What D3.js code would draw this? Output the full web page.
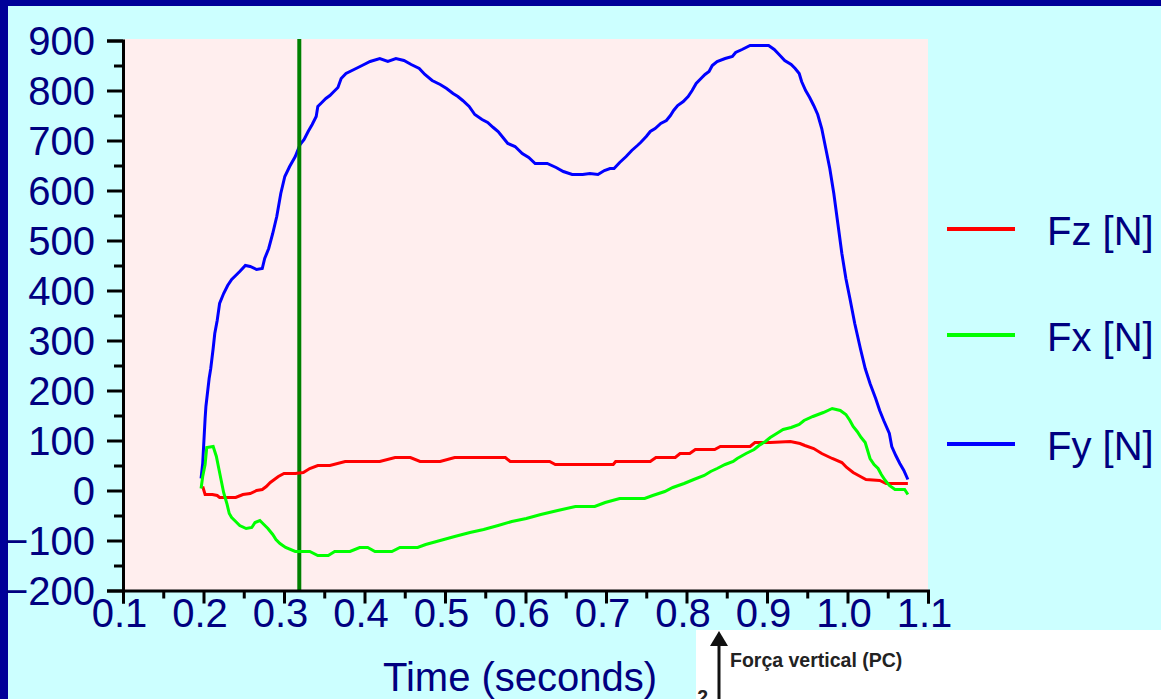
<!DOCTYPE html>
<html>
<head>
<meta charset="utf-8">
<script src="https://cdn.jsdelivr.net/npm/d3@7/dist/d3.min.js"></script>
<style>
body{margin:0;background:#ccffff;overflow:hidden;}
text{font-family:"Liberation Sans",Arial,sans-serif;}
</style>
</head>
<body>
<svg id="chart" width="1161" height="699"></svg>
<script>
// data (seconds, newtons)
var xTicks = [0.1,0.2,0.3,0.4,0.5,0.6,0.7,0.8,0.9,1.0,1.1];
var xMinor = [0.15,0.25,0.35,0.45,0.55,0.65,0.75,0.85,0.95,1.05];
var yTicks = [-200,-100,0,100,200,300,400,500,600,700,800,900];
var yMinor = [-150,-50,50,150,250,350,450,550,650,750,850];

var seriesNames = ['Fz [N]','Fx [N]','Fy [N]'];
var seriesColors = ['#ff0000','#00ff00','#0000ff'];
var cursorTime = 0.319;

var fzTime = [0.199,0.202,0.211,0.217,0.220,0.228,0.240,0.249,0.258,0.266,0.273,0.278,0.283,0.288,0.293,0.300,
	0.314,0.324,0.332,0.342,0.357,0.376,0.401,0.419,0.438,0.457,0.469,0.494,0.512,0.543,0.575,0.581,0.606,0.630,
	0.637,0.668,0.693,0.709,0.712,0.755,0.762,0.786,0.792,0.804,0.811,0.835,0.842,0.879,0.885,0.904,0.929,0.941,
	0.947,0.958,0.968,0.981,0.993,0.999,1.007,1.016,1.023,1.040,1.048,1.065,1.075];
var fzValue = [8,-8,-8,-10,-14,-14,-14,-8,-6,0,2,8,16,22,28,34,
	34,36,44,50,50,58,58,58,66,66,58,58,66,66,66,58,58,58,
	52,52,52,52,58,58,66,66,74,74,82,82,88,88,96,96,98,94,
	90,84,74,64,56,46,36,28,22,20,14,14,14];

var fxTime = [0.197,0.199,0.202,0.204,0.212,0.216,0.219,0.222,0.225,0.229,0.232,0.235,0.240,0.245,0.253,0.260,
	0.264,0.270,0.275,0.280,0.286,0.290,0.295,0.302,0.314,0.332,0.342,0.355,0.363,0.382,0.394,0.404,0.413,0.434,
	0.444,0.466,0.476,0.494,0.512,0.531,0.548,0.566,0.583,0.601,0.619,0.640,0.662,0.686,0.699,0.717,0.748,0.758,
	0.773,0.783,0.797,0.809,0.822,0.830,0.838,0.848,0.858,0.863,0.874,0.884,0.890,0.898,0.904,0.912,0.920,0.930,
	0.940,0.946,0.957,0.970,0.981,0.991,0.998,1.003,1.007,1.012,1.017,1.022,1.025,1.028,1.033,1.038,1.042,1.047,
	1.052,1.059,1.071,1.075];
var fxValue = [4,28,52,86,88,68,44,20,-4,-26,-46,-54,-62,-70,-76,-74,
	-64,-60,-68,-76,-88,-98,-106,-114,-122,-122,-130,-130,-122,-122,-114,-114,-122,-122,
	-114,-114,-108,-100,-92,-84,-78,-70,-62,-56,-48,-40,-32,-32,-24,-16,-16,-10,
	-2,6,14,22,30,38,44,52,58,64,74,82,90,98,106,114,122,126,
	132,140,148,156,164,160,152,140,128,118,106,96,80,64,52,44,32,20,
	10,2,2,-8];

var fyTime = [0.197,0.199,0.202,0.203,0.207,0.209,0.212,0.214,0.217,0.220,0.225,0.230,0.235,0.240,0.245,0.252,
	0.258,0.266,0.273,0.276,0.281,0.286,0.291,0.296,0.301,0.307,0.314,0.320,0.325,0.330,0.335,0.340,0.342,0.347,
	0.352,0.357,0.362,0.367,0.371,0.377,0.387,0.397,0.407,0.419,0.429,0.439,0.449,0.458,0.468,0.475,0.484,0.494,
	0.502,0.510,0.516,0.522,0.530,0.537,0.546,0.553,0.560,0.566,0.572,0.578,0.587,0.596,0.604,0.612,0.627,0.638,
	0.647,0.658,0.671,0.680,0.690,0.698,0.705,0.710,0.717,0.725,0.732,0.739,0.743,0.750,0.755,0.761,0.768,0.775,
	0.780,0.784,0.789,0.796,0.802,0.807,0.812,0.818,0.823,0.828,0.832,0.838,0.848,0.857,0.861,0.869,0.879,0.891,
	0.902,0.909,0.915,0.922,0.930,0.935,0.940,0.943,0.948,0.953,0.958,0.963,0.968,0.973,0.978,0.983,0.988,0.993,
	0.998,1.003,1.009,1.016,1.022,1.028,1.035,1.040,1.045,1.052,1.055,1.060,1.065,1.070,1.075];
var fyValue = [24,54,144,168,224,244,284,314,340,374,394,410,422,430,438,450,
	448,442,444,464,484,514,548,594,628,648,668,692,702,718,732,748,768,776,
	784,790,798,806,824,834,842,850,858,864,858,864,860,852,844,832,820,812,
	804,794,788,780,768,752,742,736,726,718,706,694,688,674,666,654,654,646,
	638,632,632,634,632,640,644,644,656,668,680,690,696,708,718,724,734,740,
	750,760,770,778,788,800,814,824,832,838,850,858,864,868,876,882,890,890,
	890,882,872,860,852,844,834,818,800,786,770,752,724,684,644,594,534,474,
	424,384,334,284,244,214,184,160,140,114,88,70,54,40,22];

var W = 1161, H = 699;
var plot = {left:123, right:928, top:40.5, bottom:590.5};
var navy = '#000080';

var svg = d3.select('#chart');

// frame
svg.append('rect').attr('x',0).attr('y',0).attr('width',W).attr('height',H).attr('fill','#ccffff');
svg.append('rect').attr('x',0).attr('y',0).attr('width',W).attr('height',6).attr('fill','#000099');
svg.append('rect').attr('x',0).attr('y',0).attr('width',8).attr('height',H).attr('fill','#000099');

var x = d3.scaleLinear().domain([0.1,1.1]).range([plot.left, plot.right]);
var y = d3.scaleLinear().domain([-200,900]).range([plot.bottom, plot.top]);

svg.append('rect')
	.attr('x',plot.left).attr('y',39)
	.attr('width',plot.right-plot.left).attr('height',plot.bottom-39)
	.attr('fill','#ffeeee');

// curves
var line = d3.line().x(function(d){return x(d[0]);}).y(function(d){return y(d[1]);});
function drawSeries(times, values, color){
	var pts = times.map(function(t,i){return [t, values[i]];});
	svg.append('path').datum(pts)
		.attr('d', line)
		.attr('fill','none')
		.attr('stroke', color)
		.attr('stroke-width', 3)
		.attr('stroke-linejoin','miter');
}
drawSeries(fyTime, fyValue, seriesColors[2]);

// cursor line
svg.append('line')
	.attr('x1', x(cursorTime)).attr('x2', x(cursorTime))
	.attr('y1', 39).attr('y2', plot.bottom)
	.attr('stroke','#008000').attr('stroke-width',4);

drawSeries(fzTime, fzValue, seriesColors[0]);
drawSeries(fxTime, fxValue, seriesColors[1]);

// y axis
var yAxis = svg.append('g').attr('transform','translate('+plot.left+',0)')
	.call(d3.axisLeft(y).tickValues(yTicks).tickSize(16).tickPadding(12).tickFormat(d3.format('d')));
yAxis.select('.domain').attr('stroke','#000').attr('stroke-width',3);
yAxis.selectAll('.tick line').attr('stroke','#000').attr('stroke-width',3);
yAxis.selectAll('.tick text')
	.attr('fill',navy).style('font-size','40px')
	.attr('dy','0.35em');
var yAxisMinor = svg.append('g').attr('transform','translate('+plot.left+',0)')
	.call(d3.axisLeft(y).tickValues(yMinor).tickSize(9).tickFormat(''));
yAxisMinor.select('.domain').remove();
yAxisMinor.selectAll('.tick line').attr('stroke','#000').attr('stroke-width',3);

// x axis
var xAxis = svg.append('g').attr('transform','translate(0,'+plot.bottom+')')
	.call(d3.axisBottom(x).tickValues(xTicks).tickSize(13).tickFormat(d3.format('.1f')));
xAxis.select('.domain').attr('stroke','#000').attr('stroke-width',3);
xAxis.selectAll('.tick text')
	.attr('fill',navy).style('font-size','40px')
	.attr('y',36.5).attr('dy',0).attr('dx',-4);
xAxis.selectAll('.tick line').attr('stroke','#000').attr('stroke-width',3).raise();
var xAxisMinor = svg.append('g').attr('transform','translate(0,'+plot.bottom+')')
	.call(d3.axisBottom(x).tickValues(xMinor).tickSize(8).tickFormat(''));
xAxisMinor.select('.domain').remove();
xAxisMinor.selectAll('.tick line').attr('stroke','#000').attr('stroke-width',3);

// axis title
svg.append('text')
	.attr('x',383).attr('y',691)
	.attr('fill',navy).style('font-size','40px')
	.text('Time (seconds)');

// legend
var legendY = [229, 335, 444];
var legend = svg.selectAll('.legendItem').data(seriesNames).enter()
	.append('g').attr('class','legendItem')
	.attr('transform', function(d,i){return 'translate(0,'+legendY[i]+')';});
legend.append('line')
	.attr('x1',947).attr('x2',1015).attr('y1',0).attr('y2',0)
	.attr('stroke', function(d,i){return seriesColors[i];})
	.attr('stroke-width',4);
legend.append('text')
	.attr('x',1047).attr('y',16)
	.attr('fill',navy).style('font-size','40px')
	.text(function(d){return d;});

// pasted white panel at bottom right
var panel = svg.append('g');
panel.append('rect').attr('x',696).attr('y',630).attr('width',W-696).attr('height',H-630).attr('fill','#ffffff');
panel.append('line').attr('x1',719).attr('x2',719).attr('y1',643).attr('y2',H)
	.attr('stroke','#111').attr('stroke-width',3);
panel.append('path').attr('d','M719,631 L710,646 L728,646 Z').attr('fill','#111');
panel.append('text').attr('x',730).attr('y',667)
	.attr('fill','#222').style('font-size','19.5px').style('font-weight','bold')
	.text('Força vertical (PC)');
panel.append('text').attr('x',708).attr('y',704).attr('text-anchor','end')
	.attr('fill','#222').style('font-size','19.5px').style('font-weight','bold')
	.text('2');
</script>
</body>
</html>
